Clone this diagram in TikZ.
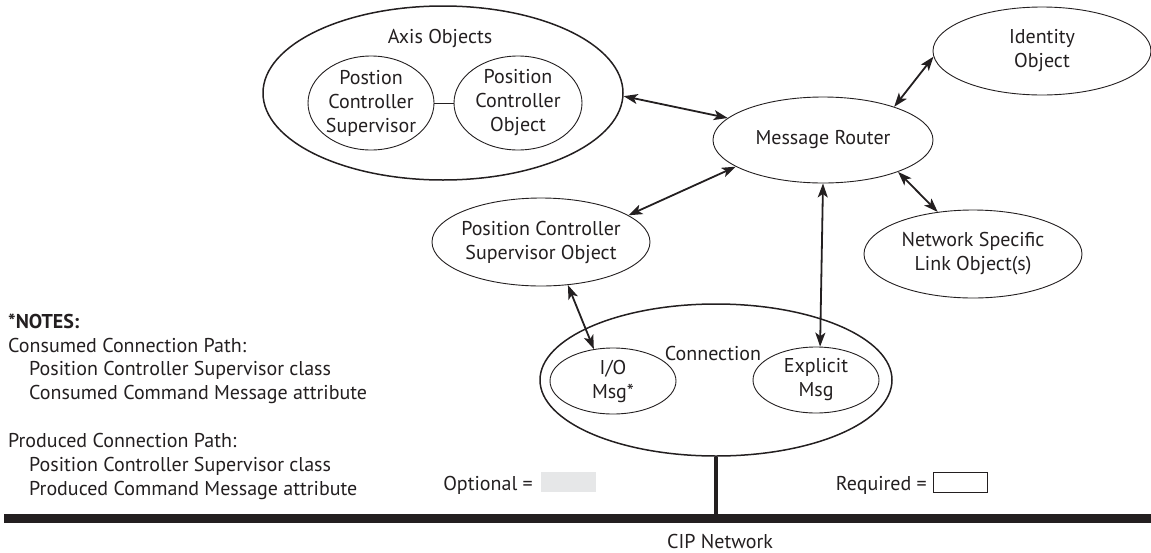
\documentclass[tikz,border=0pt]{standalone}
\usepackage{fontspec}
\setmainfont{PT Sans}
\usetikzlibrary{shapes.geometric,arrows.meta}
\definecolor{ink}{HTML}{231F20}
\definecolor{optgray}{HTML}{E6E7E8}
\begin{document}
\begin{tikzpicture}[x=1pt,y=-1pt,
  every node/.style={font=\fontsize{20}{24}\selectfont, text=ink},
  every label/.style={align=center, inner sep=0pt},
  ell/.style={draw=ink, ellipse, inner sep=0pt, line width=0.9pt},
  big/.style={ell, line width=1.5pt},
  tip/.tip={Stealth[length=14pt,width=10pt,inset=3.5pt]},
  link/.style={draw=ink, line width=1.8pt, tip-tip},
  txt/.style={inner sep=0pt, anchor=base west}]
\useasboundingbox (0,0) rectangle (1151,552);

% Axis objects
\node[big, minimum width=360, minimum height=174] (axis) at (443,93) {};
\node (axislbl) at (440,38) {Axis Objects};
\node[ell, minimum width=126, minimum height=94,
  label={center:{Postion\\Controller\\Supervisor}}] (sup) at (371,103) {};
\node[ell, minimum width=128, minimum height=94,
  label={center:{Position\\Controller\\Object}}] (obj) at (518,103) {};
\draw[draw=ink, line width=0.9pt] (sup) -- (obj);

% Other objects
\node[ell, minimum width=220, minimum height=86,
  label={center:{Message Router}}] (mr) at (823,140) {};
\node[ell, minimum width=218, minimum height=88,
  label={center:{Identity\\Object}}] (id) at (1042,51) {};
\node[ell, minimum width=218, minimum height=88,
  label={center:{Position Controller\\Supervisor Object}}] (pcso) at (541,242) {};
\node[ell, minimum width=218, minimum height=88,
  label={center:{Network Specific\\Link Object(s)}}] (net) at (973,254) {};

% Connection
\node[big, minimum width=352, minimum height=152] (conn) at (716,380) {};
\node (connlbl) at (713,353) {Connection};
\node[ell, minimum width=126, minimum height=66,
  label={center:{I/O\\Msg*}}] (io) at (613,381) {};
\node[ell, minimum width=126, minimum height=66,
  label={center:{Explicit\\Msg}}] (expl) at (816,380) {};

% Links
\draw[link] (axis.-1) -- (mr.167);
\draw[link] (mr.25) -- (id.183);
\draw[link] (mr.197) -- (pcso.17);
\draw[link] (mr.-23) -- (net.130);
\draw[link] (mr.-90) -- (expl.83);
\draw[link] (pcso.-58) -- (io.121);

% Network bus
\coordinate (busL) at (4,518);
\coordinate (busR) at (1151,518);
\draw[draw=ink, line width=9pt] (busL) -- (busR);
\draw[draw=ink, line width=4pt] (conn.south) -- (conn.south |- busL);
\node (cip) at (720,541) {CIP Network};

% Legend
\node[anchor=base east, inner sep=0pt] (opt) at (533,490) {Optional =};
\node[fill=optgray, minimum width=55, minimum height=20, inner sep=0pt, anchor=north west] (optbox) at (541,472) {};
\node[anchor=base east, inner sep=0pt] (req) at (927,490) {Required =};
\node[draw=ink, line width=0.9pt, minimum width=54, minimum height=20, inner sep=0pt, anchor=north west] (reqbox) at (933,472) {};

% Notes
\node[txt, font=\fontsize{20}{24}\selectfont\bfseries] (n0) at (8,328) {*NOTES:};
\node[txt] (n1) at (8,352) {Consumed Connection Path:};
\node[txt] (n2) at (29,375) {Position Controller Supervisor class};
\node[txt] (n3) at (29,399) {Consumed Command Message attribute};
\node[txt] (n4) at (8,447) {Produced Connection Path:};
\node[txt] (n5) at (29,471) {Position Controller Supervisor class};
\node[txt] (n6) at (29,495) {Produced Command Message attribute};
\end{tikzpicture}
\end{document}
